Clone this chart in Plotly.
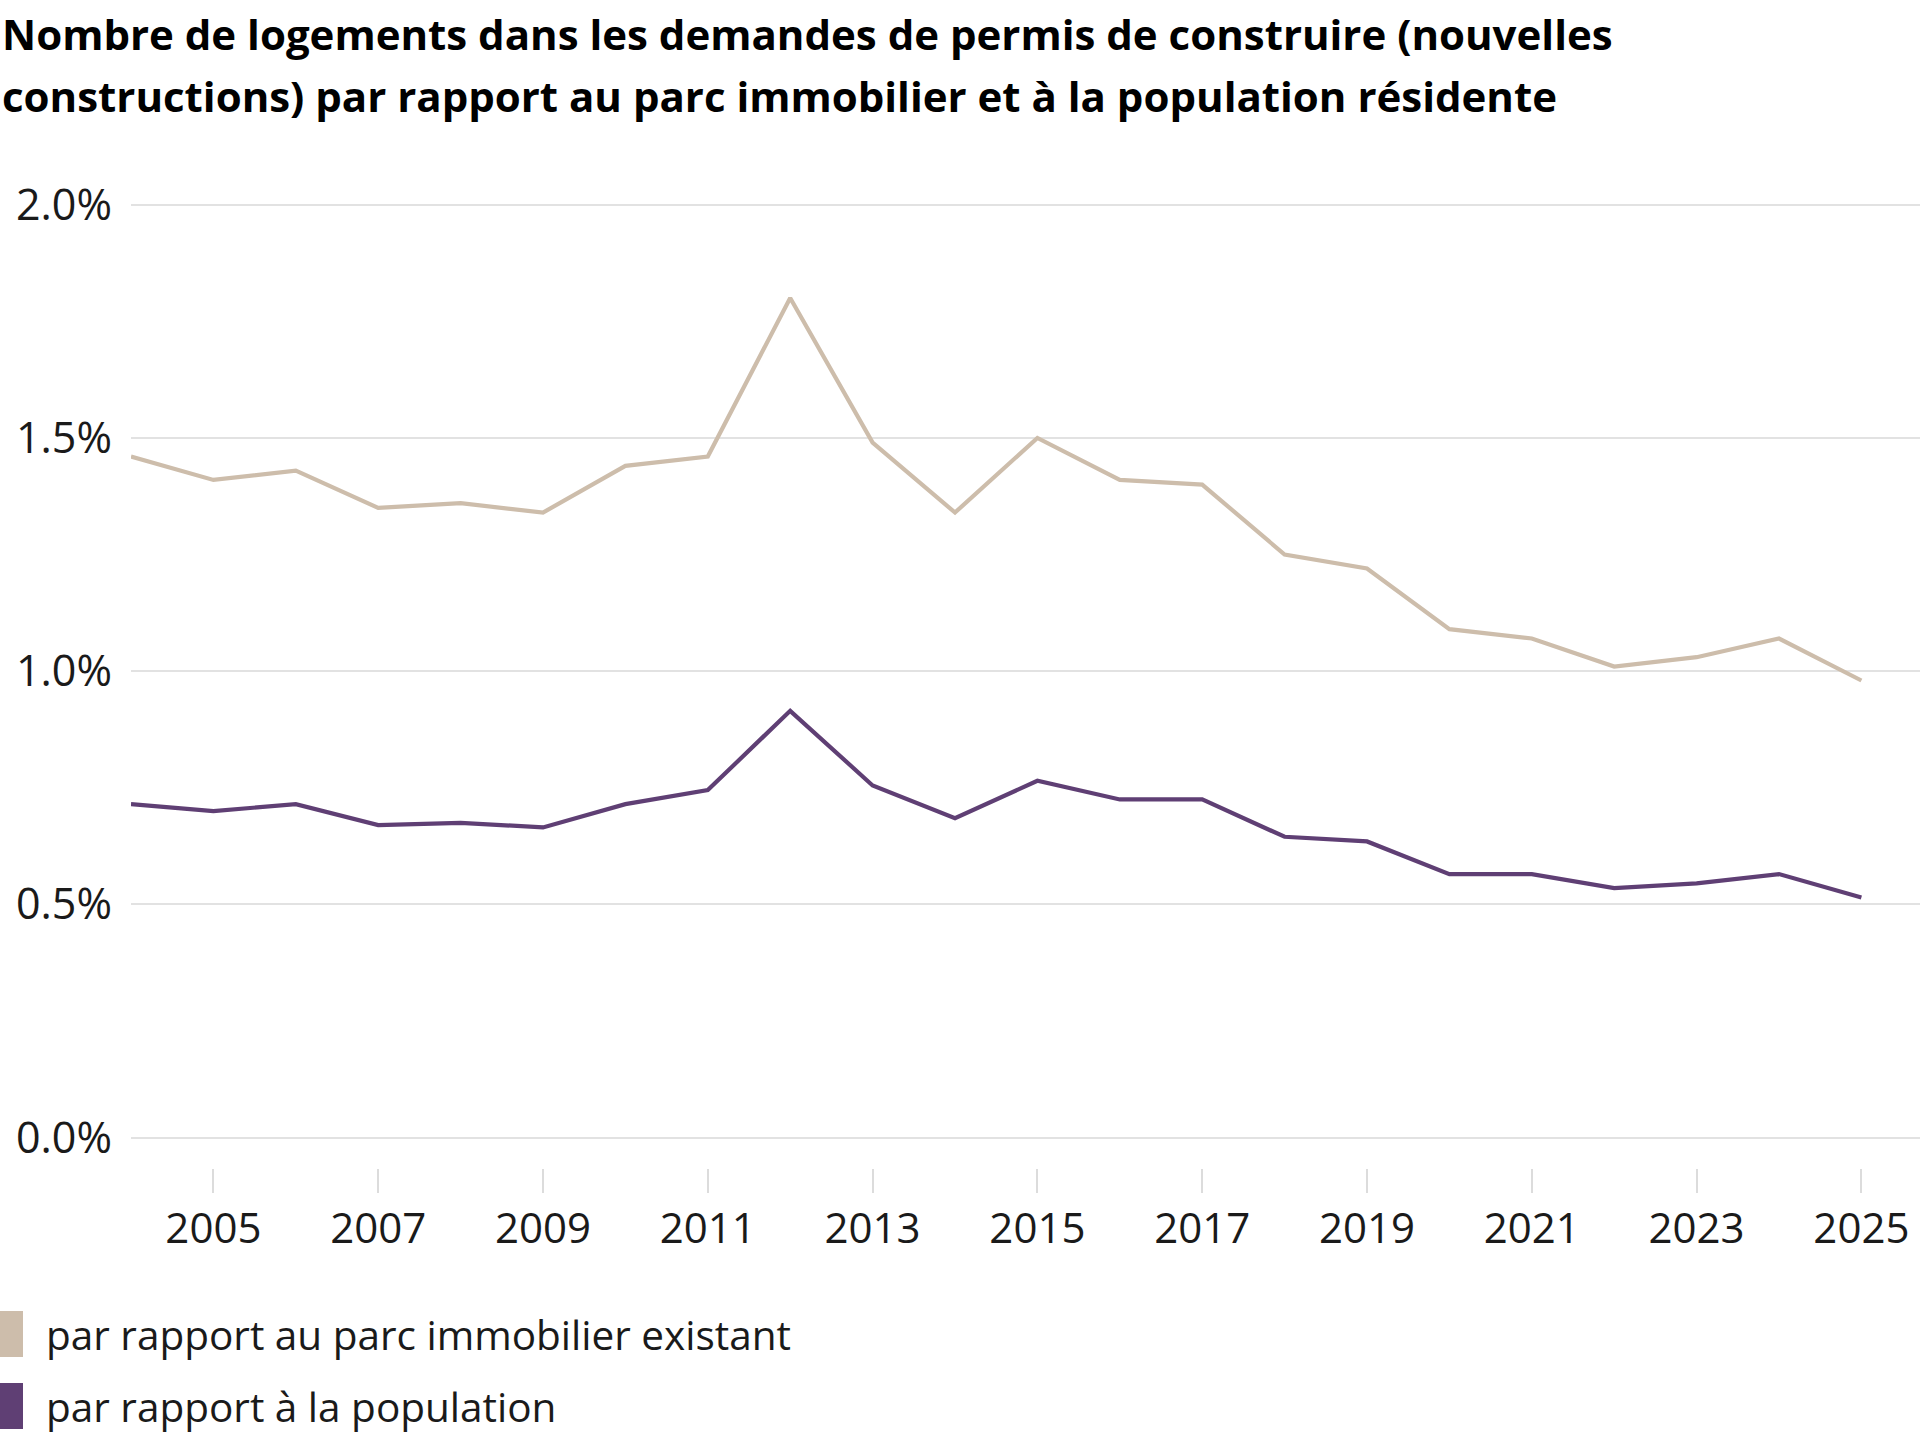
import plotly.graph_objects as go

# ---- data ----
years = list(range(2004, 2026))
parc_immobilier = [1.46, 1.41, 1.43, 1.35, 1.36, 1.34, 1.44, 1.46, 1.80, 1.49, 1.34,
                   1.50, 1.41, 1.40, 1.25, 1.22, 1.09, 1.07, 1.01, 1.03, 1.07, 0.98]
population = [0.715, 0.70, 0.715, 0.67, 0.675, 0.665, 0.715, 0.745, 0.915, 0.755, 0.685,
              0.765, 0.725, 0.725, 0.645, 0.635, 0.565, 0.565, 0.535, 0.545, 0.565, 0.515]
series_names = ["par rapport au parc immobilier existant", "par rapport à la population"]
colors = ["#cdbdab", "#5f3f74"]
x_ticks = list(range(2005, 2026, 2))
y_ticks = [0.0, 0.005, 0.010, 0.015, 0.020]
title_lines = ["Nombre de logements dans les demandes de permis de construire (nouvelles",
               "constructions) par rapport au parc immobilier et à la population résidente"]

W, H = 1920, 1442
L, R, T, B = 131, 0, 200, 274
FONT = "Open Sans"

fig = go.Figure()
for vals, name, col in zip([parc_immobilier, population], series_names, colors):
    fig.add_trace(go.Scatter(
        x=years, y=[v / 100 for v in vals], mode="lines", name=name,
        line=dict(color=col, width=4.2), showlegend=False,
        hovertemplate="%{x}: %{y:.2%}<extra></extra>"))

pw = W - L - R
ph = H - T - B


def px2paper_x(px):
    return (px - L) / pw


def px2paper_y(py):
    return (H - B - py) / ph


# legend swatches + text
rows = [1334, 1406]
for name, col, cy in zip(series_names, colors, rows):
    fig.add_shape(type="rect", xref="paper", yref="paper",
                  x0=px2paper_x(-1), x1=px2paper_x(23),
                  y0=px2paper_y(cy - 23), y1=px2paper_y(cy + 23),
                  fillcolor=col, line=dict(width=0), layer="above")
    fig.add_annotation(text=name, xref="paper", yref="paper",
                       x=px2paper_x(44), y=px2paper_y(cy), xanchor="left", yanchor="middle",
                       showarrow=False, font=dict(family=FONT, size=40.5, color="#1a1a1a"))

# title lines
for line, cy in zip(title_lines, [33, 96]):
    fig.add_annotation(text="<b>" + line + "</b>", xref="paper", yref="paper",
                       x=px2paper_x(0), y=px2paper_y(cy), xanchor="left", yanchor="middle",
                       showarrow=False, font=dict(family=FONT, size=42, color="#000000"))

fig.update_layout(
    width=W, height=H,
    margin=dict(l=L, r=R, t=T, b=B, pad=0),
    paper_bgcolor="white", plot_bgcolor="white",
    font=dict(family=FONT, color="#1a1a1a"),
    xaxis=dict(
        range=[2004, 2004 + (W - L) / 82.4],
        tickvals=x_ticks, ticktext=[str(y) for y in x_ticks],
        ticks="outside", ticklen=24, tickwidth=1.5, tickcolor="#dcdcdc",
        showgrid=False, zeroline=False, showline=False,
        tickfont=dict(family=FONT, size=42, color="#1a1a1a"),
        ticklabelstandoff=0, ticklabeloverflow="allow",
    ),
    yaxis=dict(
        range=[-0.00065, 0.0201],
        tickvals=y_ticks, tickformat=".1%",
        showgrid=True, gridcolor="#e2e2e2", gridwidth=1.6,
        zeroline=False, showline=False, ticks="",
        tickfont=dict(family=FONT, size=43, color="#1a1a1a"),
        ticklabelstandoff=18,
    ),
)

fig.write_html("out.html")
